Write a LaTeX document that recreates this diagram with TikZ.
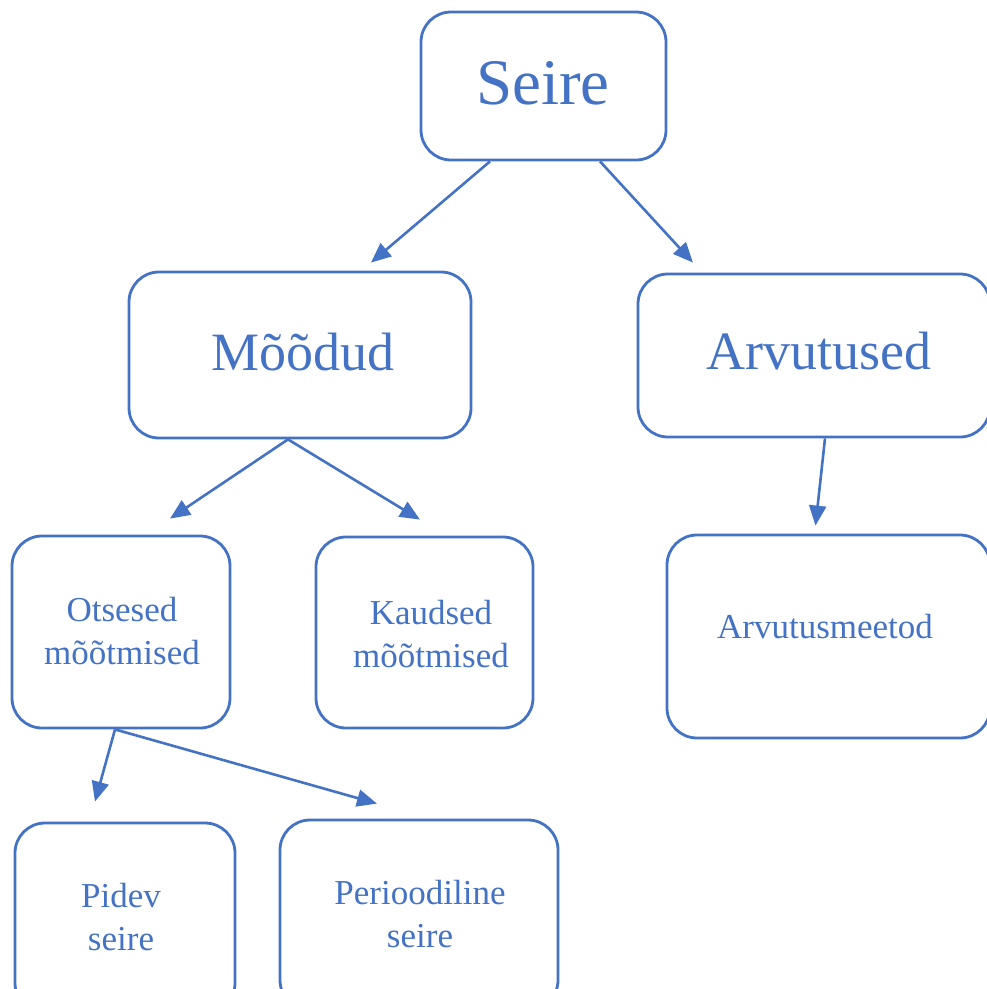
\documentclass[tikz,border=0pt]{standalone}
\usepackage{fontspec}
\setmainfont{Liberation Serif}
\usetikzlibrary{arrows.meta}
\definecolor{ublue}{HTML}{4472C4}
\tikzset{
  box/.style={draw=ublue, line width=2.8pt, rounded corners=30pt, inner sep=0pt},
  txt/.style={text=ublue, align=center, anchor=base, inner sep=0pt},
  big/.style={font=\fontsize{65}{78}\selectfont},
  mid/.style={font=\fontsize{54}{65}\selectfont},
  small/.style={font=\fontsize{35}{42.5}\selectfont},
  arr/.style={draw=ublue, line width=2.6pt, -{Triangle[length=20pt,width=17pt]}}
}
\begin{document}
\begin{tikzpicture}[x=1pt,y=-1pt]
\useasboundingbox (0,0) rectangle (987,989);
\clip (0,0) rectangle (987,989);
% boxes
\node[box, minimum width=245pt, minimum height=148pt] (seire) at (543.5,86) {};
\node[box, minimum width=342pt, minimum height=166pt] (mood) at (300,355) {};
\node[box, minimum width=352pt, minimum height=163pt] (arv) at (814,355.5) {};
\node[box, minimum width=218pt, minimum height=192pt] (ots) at (121,632) {};
\node[box, minimum width=217pt, minimum height=191pt] (kaud) at (424.5,632.5) {};
\node[box, minimum width=323pt, minimum height=203pt] (ameet) at (828.5,636.5) {};
\node[box, minimum width=220pt, minimum height=190pt] (pidev) at (125,918) {};
\node[box, minimum width=278pt, minimum height=190pt] (per) at (419,915) {};
% texts (multi-line: base = last line)
\node[txt, big] (tseire) at (543,104) {Seire};
\node[txt, mid] (tmood) at (303,370) {Mõõdud};
\node[txt, mid] (tarv) at (819,369) {Arvutused};
\node[txt, small] (tots) at (122,664) {Otsesed\\mõõtmised};
\node[txt, small] (tkaud) at (431,667) {Kaudsed\\mõõtmised};
\node[txt, small] (tameet) at (825,638) {Arvutusmeetod};
\node[txt, small] (tpidev) at (121,950) {Pidev\\seire};
\node[txt, small] (tper) at (420,947) {Perioodiline\\seire};
% connectors
\draw[arr] ([xshift=-53.5pt]seire.south) -- ([xshift=71pt,yshift=8pt]mood.north);
\draw[arr] ([xshift=56.5pt]seire.south) -- ([xshift=-121pt,yshift=10pt]arv.north);
\draw[arr] ([xshift=-12pt]mood.south) -- ([xshift=49pt,yshift=16pt]ots.north);
\draw[arr] ([xshift=-12pt]mood.south) -- ([xshift=-4.5pt,yshift=16pt]kaud.north);
\draw[arr] ([xshift=11pt]arv.south) -- ([xshift=-13pt,yshift=8pt]ameet.north);
\draw[arr] ([xshift=-6pt]ots.south) -- ([xshift=-30pt,yshift=20pt]pidev.north);
\draw[arr] ([xshift=-6pt]ots.south) -- ([xshift=-42pt,yshift=15pt]per.north);
\end{tikzpicture}
\end{document}
